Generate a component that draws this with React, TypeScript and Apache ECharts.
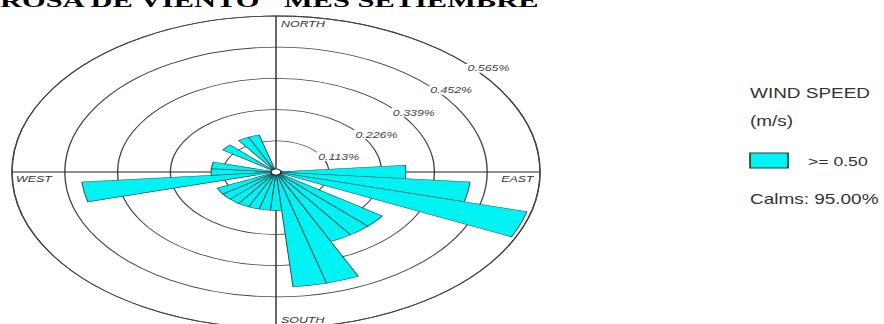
import React, { useEffect, useRef } from "react";
import * as echarts from "echarts";

// ---- data ----
const directions = [
  "0", "10", "20", "30", "40", "50", "60", "70", "80",
  "90", "100", "110", "120", "130", "140", "150", "160", "170",
  "180", "190", "200", "210", "220", "230", "240", "250", "260",
  "270", "280", "290", "300", "310", "320", "330", "340", "350",
];
// frequency (%) of winds >= 0.50 m/s per direction
const frequency = [
  0, 0, 0, 0, 0, 0, 0, 0, 0,
  0.278, 0.417, 0.556, 0, 0.278, 0.278, 0.278, 0.417, 0.417,
  0.139, 0.139, 0.139, 0.139, 0.139, 0.139, 0.139, 0, 0.417,
  0.139, 0.139, 0, 0, 0.139, 0, 0.139, 0.139, 0,
];
const ringTicks = [0.113, 0.226, 0.339, 0.452, 0.565];
const ringLabels = ["0.113%", "0.226%", "0.339%", "0.452%", "0.565%"];
const compassLabels = ["NORTH", "EAST", "SOUTH", "WEST"];
const titleText = 'ROSA DE VIENTO "MES SETIEMBRE"';
const legendTitle = ["WIND SPEED", "(m/s)"];
const legendItem = ">= 0.50";
const calmsLabel = "Calms: 95.00%";

// ---- layout (the picture is stretched horizontally) ----
const SX = 264 / 156;
const W = 884 / SX;
const H = 324;
const CX = 276 / SX;
const CY = 172;
const R = 156;
const RMAX = 0.565;
const BAR = "#00F2F2";
const LBL_SCALE = 0.86;
const LEG_SCALE = 0.8;

export default function App() {
  const ref = useRef<HTMLDivElement>(null);

  useEffect(() => {
    if (!ref.current) return;
    const chart = echarts.init(ref.current, undefined, { renderer: "svg" });

    const labelFont = 'italic 8.5px Arial, "Liberation Sans", sans-serif';
    const graphics: any[] = [];

    graphics.push({
      type: "text",
      x: 0,
      y: 1,
      z: 50,
      style: {
        text: titleText,
        font: 'bold 18px "Liberation Serif", "Times New Roman", serif',
        fill: "#000",
        align: "left",
        verticalAlign: "middle",
      },
    });

    ringTicks.forEach((t, i) => {
      const r = (t / RMAX) * R;
      graphics.push({
        type: "text",
        x: CX + r * Math.SQRT1_2 + 2,
        y: CY - r * Math.SQRT1_2 + 2,
        scaleX: LBL_SCALE,
        z: 50,
        style: {
          text: ringLabels[i],
          font: labelFont,
          fill: "#444",
          align: "left",
          verticalAlign: "top",
          backgroundColor: "#fff",
          padding: [0, 1, 0, 1],
        },
      });
    });

    const compassPos = [
      { x: CX + 3, y: 23.5, align: "left" },
      { x: 533.5 / SX, y: 178.5, align: "right" },
      { x: CX + 3, y: 320, align: "left" },
      { x: 16 / SX, y: 178.5, align: "left" },
    ];
    compassLabels.forEach((txt, i) => {
      const p = compassPos[i];
      graphics.push({
        type: "text",
        x: p.x,
        y: p.y,
        scaleX: LBL_SCALE,
        z: 50,
        style: {
          text: txt,
          font: labelFont,
          fill: "#333",
          align: p.align,
          verticalAlign: "middle",
        },
      });
    });

    graphics.push({
      type: "circle",
      z: 60,
      shape: { cx: CX, cy: CY, r: 3 },
      style: { fill: "#fff", stroke: "#222", lineWidth: 0.8 },
    });

    const legFont = '14px Arial, "Liberation Sans", sans-serif';
    const legX = 750 / SX;
    legendTitle.forEach((txt, i) => {
      graphics.push({
        type: "text",
        x: legX,
        y: i === 0 ? 93.5 : 121,
        scaleX: LEG_SCALE,
        z: 50,
        style: { text: txt, font: legFont, fill: "#333", verticalAlign: "middle" },
      });
    });
    graphics.push({
      type: "rect",
      z: 50,
      shape: { x: legX, y: 153, width: 38 / SX, height: 15 },
      style: { fill: BAR, stroke: "#1d3f40", lineWidth: 1 },
    });
    graphics.push({
      type: "text",
      x: 808 / SX,
      y: 161,
      scaleX: LEG_SCALE,
      z: 50,
      style: { text: legendItem, font: '13px Arial, "Liberation Sans", sans-serif', fill: "#333", verticalAlign: "middle" },
    });
    graphics.push({
      type: "text",
      x: legX,
      y: 199,
      scaleX: LEG_SCALE,
      z: 50,
      style: { text: calmsLabel, font: legFont, fill: "#333", verticalAlign: "middle" },
    });

    chart.setOption({
      animation: false,
      backgroundColor: "#fff",
      polar: [
        { center: [CX, CY], radius: R },
        { center: [CX, CY], radius: R },
      ],
      angleAxis: [
        {
          polarIndex: 0,
          type: "category",
          data: directions,
          startAngle: 95,
          clockwise: true,
          boundaryGap: true,
          axisLine: { show: true, lineStyle: { color: "#444", width: 0.8 } },
          axisTick: { show: false },
          axisLabel: { show: false },
          splitLine: { show: false },
        },
        {
          polarIndex: 1,
          type: "value",
          min: 0,
          max: 360,
          interval: 90,
          startAngle: 90,
          axisLine: { show: false },
          axisTick: { show: false },
          axisLabel: { show: false },
          splitLine: { show: true, lineStyle: { color: "#222", width: 0.8 } },
        },
      ],
      radiusAxis: [
        {
          polarIndex: 0,
          type: "value",
          min: 0,
          max: RMAX,
          interval: 0.113,
          axisLine: { show: false },
          axisTick: { show: false },
          axisLabel: { show: false },
          splitLine: { show: true, lineStyle: { color: "#444", width: 0.8 } },
        },
        {
          polarIndex: 1,
          type: "value",
          min: 0,
          max: 1,
          axisLine: { show: false },
          axisTick: { show: false },
          axisLabel: { show: false },
          splitLine: { show: false },
        },
      ],
      series: [
        {
          name: legendItem,
          type: "bar",
          coordinateSystem: "polar",
          polarIndex: 0,
          data: frequency,
          barCategoryGap: "0%",
          itemStyle: { color: BAR, borderColor: "#1f5256", borderWidth: 0.6 },
          z: 3,
        },
      ],
      graphic: graphics,
    });

    return () => chart.dispose();
  }, []);

  return (
    <div style={{ position: "absolute", left: 0, top: 0, width: 884, height: H, overflow: "hidden", background: "#fff" }}>
      <div
        ref={ref}
        style={{ width: W, height: H, transform: `scaleX(${SX})`, transformOrigin: "0 0" }}
      />
    </div>
  );
}
